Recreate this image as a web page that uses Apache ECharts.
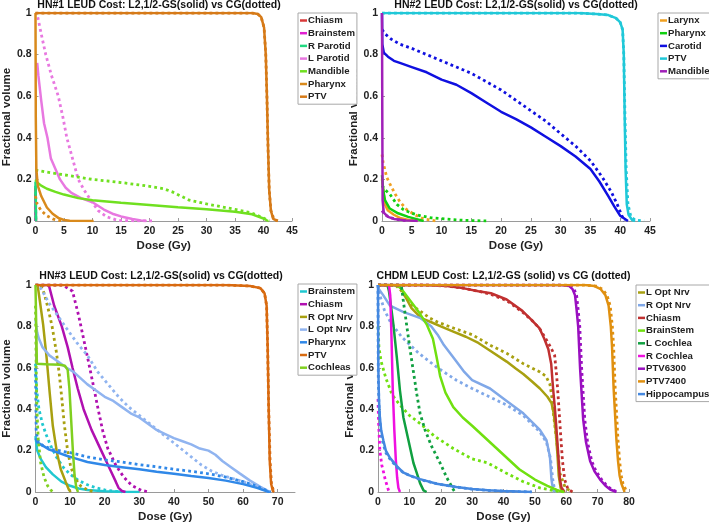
<!DOCTYPE html>
<html>
<head>
<meta charset="utf-8">
<script src="https://cdn.jsdelivr.net/npm/echarts@6/dist/echarts.min.js"></script>
<style>
  html, body { margin: 0; padding: 0; background: #fff; }
  #chart { width: 709px; height: 524px; }
</style>
</head>
<body>
<div id="chart"></div>
<script>
// ---- HN#1 (dose Gy, fractional volume) ----
const p1_chiasm_gs = [[0, 0.15], [0.05, 0]];
const p1_chiasm_cg = [[0, 0.16], [0.05, 0]];
const p1_brainstem_gs = [[0, 0.12], [0.05, 0]];
const p1_brainstem_cg = [[0, 0.1], [0.05, 0]];
const p1_rparotid_gs = [[0, 0.19], [0.08, 0]];
const p1_rparotid_cg = [[0, 0.17], [0.08, 0]];
const p1_lparotid_gs = [[0.3, 0.76], [0.5, 0.7], [1, 0.58], [1.5, 0.47], [2.1, 0.4], [2.7, 0.3], [3.5, 0.25], [4.3, 0.2], [5.3, 0.16], [6.3, 0.135], [8, 0.11], [10, 0.09], [12, 0.055], [13.5, 0.035], [15, 0.022], [17, 0.01], [18.5, 0.003], [19.5, 0]];
const p1_lparotid_cg = [[0.4, 0.98], [1, 0.9], [1.8, 0.8], [2.8, 0.7], [4, 0.6], [4.8, 0.5], [5.5, 0.4], [6.5, 0.3], [7.5, 0.2], [8.5, 0.15], [9.7, 0.1], [11, 0.05], [12.5, 0.02], [14, 0.007], [15, 0.002], [20.5, 0]];
const p1_mandible_gs = [[0, 0.2], [0.3, 0.185], [1, 0.17], [2, 0.155], [3.5, 0.14], [5, 0.127], [7.5, 0.11], [10, 0.1], [15, 0.088], [20, 0.077], [25, 0.066], [30, 0.056], [35, 0.044], [38, 0.032], [40, 0.012], [40.8, 0]];
const p1_mandible_cg = [[0, 0.245], [2, 0.235], [5, 0.222], [10, 0.2], [15, 0.185], [20, 0.167], [22.5, 0.155], [24, 0.14], [25.5, 0.12], [27, 0.1], [30, 0.082], [35, 0.056], [38, 0.038], [40, 0.014], [41, 0]];
const p1_pharynx_gs = [[0, 1], [0.05, 0.5], [0.15, 0.25], [0.4, 0.17], [1, 0.12], [2, 0.065], [3, 0.035], [4, 0.015], [5, 0.005], [6, 0.001], [10.2, 0]];
const p1_pharynx_cg = [[0, 0.12], [0.3, 0.08], [1, 0.05], [2, 0.025], [3, 0.01], [4, 0.003], [5, 0]];
const p1_ptv_gs = [[0, 1], [38, 1], [39, 0.995], [39.6, 0.98], [40.1, 0.93], [40.4, 0.8], [40.6, 0.6], [40.8, 0.35], [41, 0.15], [41.3, 0.05], [41.7, 0.01], [42.5, 0]];
const p1_ptv_cg = [[0, 1], [38, 1], [39, 0.995], [39.6, 0.98], [40.1, 0.93], [40.4, 0.8], [40.6, 0.6], [40.8, 0.35], [41, 0.15], [41.3, 0.05], [41.8, 0.01], [42.5, 0]];

// ---- HN#2 ----
const p2_larynx_gs = [[0, 0.2], [0.5, 0.08], [1, 0.05], [2, 0.03], [3, 0.015], [4.5, 0.005], [6, 0]];
const p2_larynx_cg = [[0, 0.32], [0.2, 0.28], [0.8, 0.21], [1.3, 0.18], [2.2, 0.13], [3, 0.093], [4.1, 0.056], [5.5, 0.03], [7, 0.01], [9, 0]];
const p2_pharynx_gs = [[0, 0.22], [0.2, 0.15], [0.5, 0.1], [1.3, 0.06], [2.7, 0.037], [4.4, 0.02], [6, 0.008], [7, 0]];
const p2_pharynx_cg = [[0, 0.17], [0.5, 0.15], [1.3, 0.13], [2.5, 0.08], [3.6, 0.055], [5, 0.037], [6.6, 0.024], [8.3, 0.015], [11.7, 0.007], [14, 0.003], [17.5, 0]];
const p2_carotid_gs = [[0, 1], [0.05, 0.85], [0.3, 0.81], [1, 0.79], [2, 0.77], [3, 0.76], [5, 0.74], [7.5, 0.715], [10, 0.68], [12.5, 0.655], [15, 0.615], [17.5, 0.57], [20, 0.525], [22.5, 0.49], [25, 0.45], [27.5, 0.405], [30, 0.36], [32.5, 0.31], [35, 0.25], [36.5, 0.19], [38, 0.12], [39, 0.07], [40, 0.025], [41.3, 0]];
const p2_carotid_cg = [[0, 0.92], [0.5, 0.9], [1.5, 0.875], [3, 0.85], [5, 0.83], [7.5, 0.8], [10, 0.77], [12.5, 0.74], [15, 0.71], [17.5, 0.67], [20, 0.63], [22.5, 0.58], [25, 0.53], [27.5, 0.48], [30, 0.42], [32.5, 0.36], [35, 0.29], [37, 0.21], [38.5, 0.14], [39.5, 0.08], [40.2, 0.03], [40.7, 0]];
const p2_ptv_gs = [[0, 1], [33, 1], [36, 0.995], [38, 0.99], [39.3, 0.975], [40, 0.955], [40.4, 0.92], [40.6, 0.8], [40.75, 0.5], [40.9, 0.25], [41.1, 0.08], [41.4, 0.03], [42, 0.005], [42.5, 0]];
const p2_ptv_cg = [[0, 1], [33, 1], [36, 0.995], [38, 0.99], [39.3, 0.975], [40, 0.955], [40.4, 0.92], [40.6, 0.8], [40.8, 0.5], [41, 0.25], [41.3, 0.08], [41.8, 0.02], [42.5, 0.005], [44, 0]];
const p2_mandible_gs = [[0, 1], [0.05, 0.5], [0.1, 0.1], [0.3, 0.04], [1, 0.02], [2, 0.01], [4, 0.003], [6, 0]];
const p2_mandible_cg = [[0, 0.05], [0.5, 0.03], [1.5, 0.015], [3, 0.005], [4.5, 0]];

// ---- HN#3 ----
const p3_brainstem_gs = [[0, 0.27], [0.5, 0.2], [1.5, 0.16], [3, 0.12], [5, 0.085], [7.5, 0.05], [10, 0.03], [12.5, 0.017], [15, 0.01], [20, 0.004], [25, 0.001], [30, 0]];
const p3_brainstem_cg = [[0, 0.62], [0.3, 0.5], [1, 0.4], [2, 0.33], [3, 0.28], [4.5, 0.22], [6, 0.17], [8, 0.12], [10, 0.085], [12.5, 0.055], [15, 0.035], [17.5, 0.02], [20, 0.01], [23, 0.003], [25, 0]];
const p3_chiasm_gs = [[0, 1], [3.5, 1], [4, 0.99], [5.4, 0.9], [7.6, 0.8], [9.3, 0.7], [10.7, 0.6], [12.2, 0.5], [13.9, 0.4], [16.2, 0.3], [19, 0.2], [21.8, 0.1], [23.2, 0.05], [24, 0.02], [25, 0.005], [26, 0]];
const p3_chiasm_cg = [[0, 1], [7.5, 1], [8.3, 0.995], [10.7, 0.97], [12.5, 0.85], [13.9, 0.74], [15.3, 0.63], [16.9, 0.5], [18.1, 0.4], [19.5, 0.29], [20.9, 0.21], [23.2, 0.13], [25.5, 0.072], [27.8, 0.032], [30.6, 0.008], [32.9, 0]];
const p3_roptnrv_gs = [[0, 1], [0.6, 1], [1.2, 0.93], [2.2, 0.81], [3.2, 0.65], [4.1, 0.48], [5, 0.32], [6.2, 0.19], [7.3, 0.11], [8.7, 0.05], [9.7, 0.01], [10.2, 0]];
const p3_roptnrv_cg = [[0, 1], [1.5, 1], [2.5, 0.96], [3.6, 0.89], [4.8, 0.8], [6, 0.68], [6.8, 0.58], [7.5, 0.47], [8.3, 0.33], [9.2, 0.21], [10.2, 0.12], [11.5, 0.065], [13, 0.03], [15, 0.01], [17, 0]];
const p3_loptnrv_gs = [[0, 0.83], [0.5, 0.77], [1, 0.74], [2, 0.7], [4, 0.66], [6.5, 0.63], [9, 0.6], [11, 0.58], [13, 0.55], [15, 0.52], [17.5, 0.49], [20, 0.46], [22.5, 0.44], [25, 0.41], [27.5, 0.38], [30, 0.36], [32.5, 0.33], [35, 0.3], [37.5, 0.28], [40, 0.26], [42.5, 0.245], [45, 0.23], [47.5, 0.21], [50, 0.2], [52, 0.18], [54, 0.15], [56.5, 0.12], [59, 0.09], [62, 0.055], [65, 0.025], [67.8, 0]];
const p3_loptnrv_cg = [[0, 1], [1, 1], [2, 0.97], [4, 0.91], [6.5, 0.85], [9, 0.79], [12, 0.72], [15, 0.66], [18, 0.58], [21, 0.52], [24, 0.46], [27, 0.41], [30, 0.37], [33, 0.33], [36, 0.29], [39, 0.25], [42, 0.21], [45, 0.17], [48, 0.13], [51, 0.1], [54, 0.08], [57, 0.065], [60, 0.05], [63, 0.03], [66, 0.01], [67.5, 0]];
const p3_pharynx_gs = [[0, 0.26], [0.5, 0.24], [2, 0.225], [4, 0.205], [6.5, 0.19], [9, 0.175], [11, 0.165], [15, 0.145], [20, 0.13], [25, 0.12], [30, 0.11], [35, 0.098], [40, 0.088], [45, 0.077], [50, 0.068], [55, 0.055], [60, 0.038], [64, 0.02], [67.5, 0]];
const p3_pharynx_cg = [[0, 0.6], [0.2, 0.3], [0.6, 0.25], [2, 0.225], [5, 0.205], [10, 0.19], [15, 0.17], [20, 0.155], [25, 0.145], [30, 0.132], [35, 0.122], [40, 0.11], [45, 0.1], [50, 0.088], [55, 0.072], [60, 0.05], [64, 0.028], [67, 0.006], [68, 0]];
const p3_ptv_gs = [[0, 1], [55, 1], [62, 0.995], [65, 0.985], [66.2, 0.96], [66.8, 0.9], [67.1, 0.7], [67.4, 0.4], [67.7, 0.15], [68.1, 0.04], [68.6, 0.005], [69, 0]];
const p3_ptv_cg = [[0, 1], [55, 1], [62, 0.995], [65, 0.985], [66.2, 0.96], [66.8, 0.9], [67.1, 0.7], [67.4, 0.4], [67.8, 0.15], [68.2, 0.04], [68.8, 0.005], [69.3, 0]];
const p3_cochleas_gs = [[0, 1], [0.3, 1], [0.4, 0.62], [3, 0.617], [7, 0.615], [8.5, 0.61], [9.3, 0.59], [9.8, 0.5], [10.3, 0.35], [10.8, 0.2], [11.3, 0.08], [11.8, 0.02], [12.3, 0]];
const p3_cochleas_cg = [[0, 0.9], [0.2, 0.6], [0.4, 0.4], [0.8, 0.25], [1.5, 0.14], [2.5, 0.07], [3.5, 0.03], [4.5, 0.008], [5, 0]];

// ---- CHDM ----
const p4_loptnrv_gs = [[0, 1], [6, 1], [7.5, 0.98], [8.5, 0.95], [10.6, 0.89], [13.8, 0.84], [17, 0.82], [20, 0.8], [24, 0.775], [28, 0.75], [32, 0.72], [36, 0.68], [41, 0.63], [44, 0.595], [46.3, 0.57], [49, 0.535], [51.6, 0.5], [54, 0.46], [55.3, 0.43], [56, 0.38], [56.6, 0.3], [57.2, 0.18], [57.6, 0.08], [58.2, 0.02], [59, 0]];
const p4_loptnrv_cg = [[0, 1], [5.5, 1], [7, 0.98], [9, 0.94], [11, 0.9], [13.8, 0.87], [16.5, 0.84], [19.1, 0.82], [24.4, 0.79], [30, 0.76], [35.7, 0.71], [41, 0.67], [46.3, 0.62], [51.6, 0.58], [53.5, 0.56], [54.8, 0.52], [55.5, 0.45], [55.9, 0.38], [57, 0.24], [58, 0.09], [59.7, 0.02], [62, 0]];
const p4_roptnrv_gs = [[0, 1], [0.3, 0.98], [1.7, 0.95], [3.8, 0.9], [8, 0.87], [13.5, 0.84], [17, 0.8], [19, 0.76], [21, 0.71], [23, 0.67], [25, 0.63], [27.5, 0.58], [30, 0.54], [35.7, 0.5], [41, 0.44], [46.3, 0.38], [51.6, 0.3], [53.7, 0.25], [54.8, 0.17], [55.3, 0.06], [55.8, 0.01], [56.2, 0]];
const p4_roptnrv_cg = [[0, 1], [0.6, 0.95], [2, 0.88], [4, 0.82], [7.5, 0.75], [13, 0.67], [19, 0.6], [25, 0.54], [30, 0.5], [35.5, 0.46], [41, 0.42], [46.3, 0.37], [51.6, 0.29], [53.7, 0.24], [55, 0.16], [55.7, 0.06], [56.3, 0.01], [57, 0]];
const p4_chiasm_gs = [[0, 1], [15, 1], [22, 0.995], [27, 0.985], [32, 0.97], [36, 0.96], [41, 0.93], [46, 0.875], [49, 0.83], [51.5, 0.79], [53, 0.74], [54.3, 0.69], [55.2, 0.62], [55.8, 0.5], [56.4, 0.4], [57, 0.28], [57.5, 0.17], [58, 0.06], [58.5, 0.02], [59.5, 0]];
const p4_chiasm_cg = [[0, 1], [15, 1], [22, 0.995], [27, 0.985], [32, 0.97], [36, 0.955], [41, 0.925], [46, 0.87], [49, 0.83], [51.5, 0.79], [53.5, 0.74], [55, 0.7], [56.3, 0.66], [57, 0.55], [57.6, 0.42], [58.2, 0.28], [58.8, 0.15], [59.5, 0.06], [60.5, 0.015], [62, 0]];
const p4_brainstem_gs = [[0, 1], [5, 1], [7, 0.99], [10, 0.93], [13, 0.87], [15.5, 0.81], [17.5, 0.74], [18.7, 0.65], [19.8, 0.56], [21.5, 0.48], [24, 0.41], [27, 0.36], [30, 0.32], [35, 0.25], [40, 0.18], [45, 0.11], [50, 0.06], [54, 0.03], [57, 0.01], [59, 0]];
const p4_brainstem_cg = [[0, 0.8], [0.3, 0.7], [1, 0.63], [2.5, 0.55], [4.5, 0.47], [7, 0.42], [10, 0.37], [13.5, 0.33], [18, 0.27], [24, 0.21], [30, 0.16], [35, 0.14], [41, 0.09], [46, 0.052], [51.6, 0.02], [57, 0.004], [60, 0]];
const p4_lcochlea_gs = [[0, 1], [3, 1], [3.5, 0.97], [4.3, 0.88], [4.9, 0.81], [6, 0.65], [7, 0.49], [8.1, 0.36], [9.7, 0.25], [11.3, 0.14], [12.4, 0.09], [13.4, 0.043], [14.5, 0.008], [15.5, 0]];
const p4_lcochlea_cg = [[0, 1], [6.5, 1], [7.5, 0.99], [8.1, 0.92], [9.1, 0.81], [10.2, 0.69], [11.3, 0.58], [12.4, 0.47], [13.4, 0.38], [15, 0.3], [17.1, 0.22], [19.8, 0.14], [21.9, 0.07], [24, 0.012], [24.5, 0]];
const p4_rcochlea_gs = [[0, 1], [3.5, 1], [3.9, 0.95], [4.3, 0.75], [4.7, 0.5], [5.2, 0.3], [5.7, 0.15], [6.1, 0.07], [6.5, 0.02], [7, 0]];
const p4_rcochlea_cg = [[0, 0.45], [0.2, 0.33], [0.6, 0.2], [1.2, 0.13], [1.7, 0.1], [2.3, 0.06], [2.8, 0.035], [3.3, 0.01], [3.6, 0]];
const p4_ptv6300_gs = [[0, 1], [58, 1], [61, 0.995], [62, 0.98], [62.8, 0.95], [63.3, 0.88], [63.8, 0.8], [64.4, 0.6], [65, 0.45], [65.4, 0.35], [66.3, 0.24], [67.6, 0.15], [69, 0.1], [70.8, 0.06], [72.5, 0.03], [74, 0.012], [76, 0]];
const p4_ptv6300_cg = [[0, 1], [58.5, 1], [61.5, 0.995], [62.5, 0.98], [63.3, 0.95], [63.8, 0.88], [64.3, 0.8], [64.9, 0.6], [65.5, 0.45], [65.9, 0.35], [66.8, 0.24], [68.1, 0.15], [69.5, 0.1], [71.3, 0.06], [73, 0.03], [74.5, 0.012], [76.5, 0]];
const p4_ptv7400_gs = [[0, 1], [66, 1], [69, 0.995], [71, 0.98], [72.5, 0.95], [73.5, 0.9], [74.2, 0.8], [74.6, 0.7], [75.1, 0.5], [75.5, 0.39], [76, 0.25], [76.5, 0.15], [77, 0.08], [77.6, 0.04], [78.6, 0]];
const p4_ptv7400_cg = [[0, 1], [66, 1], [69.5, 0.995], [71.5, 0.98], [73, 0.95], [74, 0.9], [74.7, 0.8], [75.1, 0.7], [75.6, 0.5], [76, 0.39], [76.5, 0.25], [77, 0.15], [77.5, 0.08], [78.1, 0.04], [79.3, 0]];
const p4_hippo_gs = [[0, 1], [0.05, 0.8], [0.1, 0.6], [0.3, 0.45], [0.6, 0.36], [1, 0.3], [1.7, 0.25], [2.5, 0.2], [3.8, 0.165], [6, 0.125], [8, 0.095], [10, 0.08], [13.4, 0.062], [18.7, 0.04], [25, 0.024], [30, 0.014], [35, 0.009], [40, 0.005], [45, 0.002], [49, 0]];
const p4_hippo_cg = [[0, 1], [0.05, 0.75], [0.1, 0.55], [0.3, 0.42], [0.6, 0.34], [1, 0.28], [1.7, 0.23], [2.5, 0.19], [3.8, 0.16], [6, 0.12], [8, 0.095], [10, 0.08], [13.4, 0.06], [18.7, 0.04], [25, 0.024], [30, 0.014], [35, 0.008], [40, 0.004], [45, 0.002], [49, 0]];

// panel layout + structures (label, colour, solid, dotted)
const panels = [
  {
    title: 'HN#1 LEUD Cost: L2,1/2-GS(solid) vs CG(dotted)',
    grid: { left: 26, top: 13, width: 266, height: 208 },
    xMax: 45, xStep: 5, titleTop: 0,
    legend: { left: 298, top: 13 },
    items: [
      ['Chiasm', '#d93a3a', p1_chiasm_gs, p1_chiasm_cg],
      ['Brainstem', '#e020d0', p1_brainstem_gs, p1_brainstem_cg],
      ['R Parotid', '#20d880', p1_rparotid_gs, p1_rparotid_cg],
      ['L Parotid', '#e878e0', p1_lparotid_gs, p1_lparotid_cg],
      ['Mandible', '#70e020', p1_mandible_gs, p1_mandible_cg],
      ['Pharynx', '#d98a1c', p1_pharynx_gs, p1_pharynx_cg],
      ['PTV', '#d67a18', p1_ptv_gs, p1_ptv_cg]
    ]
  },
  {
    title: 'HN#2 LEUD Cost: L2,1/2-GS(solid) vs CG(dotted)',
    grid: { left: 382, top: 13, width: 268, height: 208 },
    xMax: 45, xStep: 5, titleTop: 0,
    legend: { left: 658, top: 13 },
    items: [
      ['Larynx', '#f0a020', p2_larynx_gs, p2_larynx_cg],
      ['Pharynx', '#10d010', p2_pharynx_gs, p2_pharynx_cg],
      ['Carotid', '#1010e0', p2_carotid_gs, p2_carotid_cg],
      ['PTV', '#20c8d8', p2_ptv_gs, p2_ptv_cg],
      ['Mandible', '#a020b8', p2_mandible_gs, p2_mandible_cg]
    ]
  },
  {
    title: 'HN#3 LEUD Cost: L2,1/2-GS(solid) vs CG(dotted)',
    grid: { left: 27, top: 285, width: 268, height: 207 },
    xMax: 75, xStep: 10, titleTop: 271,
    legend: { left: 298, top: 284 },
    items: [
      ['Brainstem', '#20c8d0', p3_brainstem_gs, p3_brainstem_cg],
      ['Chiasm', '#b010b0', p3_chiasm_gs, p3_chiasm_cg],
      ['R Opt Nrv', '#a8a010', p3_roptnrv_gs, p3_roptnrv_cg],
      ['L Opt Nrv', '#90b4f0', p3_loptnrv_gs, p3_loptnrv_cg],
      ['Pharynx', '#3088e8', p3_pharynx_gs, p3_pharynx_cg],
      ['PTV', '#d86a10', p3_ptv_gs, p3_ptv_cg],
      ['Cochleas', '#80d020', p3_cochleas_gs, p3_cochleas_cg]
    ]
  },
  {
    title: 'CHDM LEUD Cost: L2,1/2-GS (solid) vs CG (dotted)',
    grid: { left: 378, top: 285, width: 251, height: 209 },
    xMax: 80, xStep: 10, titleTop: 271,
    legend: { left: 636, top: 285 },
    items: [
      ['L Opt Nrv', '#a8a010', p4_loptnrv_gs, p4_loptnrv_cg],
      ['R Opt Nrv', '#80a8e8', p4_roptnrv_gs, p4_roptnrv_cg],
      ['Chiasm', '#c03030', p4_chiasm_gs, p4_chiasm_cg],
      ['BrainStem', '#70e010', p4_brainstem_gs, p4_brainstem_cg],
      ['L Cochlea', '#10a040', p4_lcochlea_gs, p4_lcochlea_cg],
      ['R Cochlea', '#f010e0', p4_rcochlea_gs, p4_rcochlea_cg],
      ['PTV6300', '#9a10c0', p4_ptv6300_gs, p4_ptv6300_cg],
      ['PTV7400', '#e09010', p4_ptv7400_gs, p4_ptv7400_cg],
      ['Hippocampus', '#4488e0', p4_hippo_gs, p4_hippo_cg]
    ]
  }
];

const FONT = 'Liberation Sans, Arial, sans-serif';
const axisGray = '#9a9a9a';

const chart = echarts.init(document.getElementById('chart'));

const titles = [], grids = [], xAxes = [], yAxes = [], legends = [], series = [];

panels.forEach((p, i) => {
  // zero-width suffix keeps names unique per panel but invisible
  const tag = '\u200b'.repeat(i + 1);
  titles.push({
    text: p.title,
    left: p.grid.left + p.grid.width / 2,
    top: p.titleTop,
    textAlign: 'center',
    padding: 0,
    textStyle: { fontFamily: FONT, fontSize: 10.5, fontWeight: 'bold', color: '#111' }
  });
  grids.push(Object.assign({ containLabel: false }, p.grid));
  xAxes.push({
    type: 'value', gridIndex: i, min: 0, max: p.xMax, interval: p.xStep,
    name: 'Dose (Gy)', nameLocation: 'middle', nameGap: 19,
    nameTextStyle: { fontFamily: FONT, fontSize: 11.5, fontWeight: 'bold', color: '#222' },
    axisLine: { lineStyle: { color: axisGray, width: 1 } },
    axisTick: { inside: true, length: 3, lineStyle: { color: axisGray } },
    axisLabel: { fontFamily: FONT, fontSize: 10.5, fontWeight: 'bold', color: '#222', margin: 5, showMaxLabel: p.xMax % p.xStep === 0 },
    splitLine: { show: false }
  });
  yAxes.push({
    type: 'value', gridIndex: i, min: 0, max: 1, interval: 0.2,
    name: 'Fractional volume', nameLocation: 'middle', nameGap: 15,
    nameTextStyle: { fontFamily: FONT, fontSize: 11.5, fontWeight: 'bold', color: '#222' },
    axisLine: { show: true, lineStyle: { color: axisGray, width: 1 } },
    axisTick: { show: true, inside: true, length: 3, lineStyle: { color: axisGray } },
    axisLabel: { fontFamily: FONT, fontSize: 10.5, fontWeight: 'bold', color: '#222', margin: 4 },
    splitLine: { show: false }
  });
  legends.push({
    left: p.legend.left, top: p.legend.top, orient: 'vertical',
    data: p.items.map(it => it[0] + tag),
    formatter: n => n.replace(/\u200b/g, ''),
    icon: 'rect', itemWidth: 7, itemHeight: 2.5, itemGap: 1.7,
    padding: [2, 2, 2, 2],
    backgroundColor: '#fff', borderColor: '#a8a8a8', borderWidth: 1,
    textStyle: { fontFamily: FONT, fontSize: 9.6, fontWeight: 'bold', color: '#222', padding: [0, 0, 0, -4], lineHeight: 11 },
    selectedMode: false
  });
  p.items.forEach(([label, color, gs, cg]) => {
    series.push({
      name: label + tag, type: 'line', xAxisIndex: i, yAxisIndex: i,
      data: gs, showSymbol: false, color: color,
      lineStyle: { color: color, width: 2.5 }
    });
    series.push({
      name: label + tag, type: 'line', xAxisIndex: i, yAxisIndex: i,
      data: cg, showSymbol: false, color: color,
      lineStyle: { color: color, width: 2.8, type: [2.8, 3.2], cap: 'butt' }
    });
  });
});

chart.setOption({
  animation: false,
  backgroundColor: '#fff',
  title: titles,
  grid: grids,
  xAxis: xAxes,
  yAxis: yAxes,
  legend: legends,
  series: series
});

window.addEventListener('resize', () => chart.resize());
</script>
</body>
</html>
